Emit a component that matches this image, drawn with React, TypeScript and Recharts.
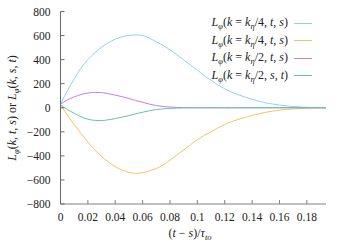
import React from "react";
import { LineChart, Line, XAxis, YAxis, Legend } from "recharts";

const xValues = [0, 0.005, 0.01, 0.015, 0.02, 0.025, 0.03, 0.035, 0.04, 0.045, 0.05, 0.055, 0.06, 0.065, 0.07, 0.075, 0.08, 0.085, 0.09, 0.095, 0.1, 0.105, 0.11, 0.115, 0.12, 0.125, 0.13, 0.135, 0.14, 0.145, 0.15, 0.155, 0.16, 0.165, 0.17, 0.175, 0.18, 0.185, 0.19, 0.194];
const blueValues = [35, 140, 240, 330, 400, 455, 505, 540, 570, 590, 602, 605, 600, 578, 548, 518, 482, 440, 398, 355, 312, 268, 228, 190, 158, 130, 108, 88, 70, 54, 41, 31, 22, 15, 10, 7, 4, 2, 1, 0];
const orangeValues = [25, -60, -140, -215, -285, -350, -405, -450, -490, -518, -537, -545, -540, -524, -505, -475, -436, -393, -350, -307, -265, -230, -200, -168, -140, -115, -97, -80, -64, -50, -38, -28, -20, -14, -10, -7, -4, -2, -1, 0];
const purpleValues = [30, 65, 90, 110, 122, 128, 126, 117, 105, 92, 77, 60, 45, 30, 18, 11, 6, 3, 1, 0, 0, 0, 0, 0, 0, 0, 0, 0, 0, 0, 0, 0, 0, 0, 0, 0, 0, 0, 0, 0];
const greenValues = [25, -15, -45, -75, -95, -105, -106, -100, -90, -78, -65, -50, -37, -25, -15, -9, -5, -3, -1, 0, 0, 0, 0, 0, 0, 0, 0, 0, 0, 0, 0, 0, 0, 0, 0, 0, 0, 0, 0, 0];
const xTicks = [0, 0.02, 0.04, 0.06, 0.08, 0.1, 0.12, 0.14, 0.16, 0.18];
const yTicks = [-800, -600, -400, -200, 0, 200, 400, 600, 800];
const legendItems = [
  { key: "blue", frac: "4", args: ["t", "s"], color: "#8fd0f2" },
  { key: "orange", frac: "4", args: ["t", "s"], color: "#f2c465" },
  { key: "purple", frac: "2", args: ["t", "s"], color: "#c67cee" },
  { key: "green", frac: "2", args: ["s", "t"], color: "#62c6a4" },
];

const data = xValues.map((x, i) => ({
  x,
  blue: blueValues[i],
  orange: orangeValues[i],
  purple: purpleValues[i],
  green: greenValues[i],
}));

const FONT = "'Liberation Serif', 'DejaVu Serif', serif";
const AXIS = "#808080";
const TXT = "#222";

const fmtX = (v: number) => (v === 0 ? "0" : Number(v.toFixed(2)).toString());
const fmtY = (v: number) => (v < 0 ? "\u2212" + Math.abs(v) : String(v));

const XTick = (props: any) => {
  const { x, payload } = props;
  return (
    <text x={x} y={221} textAnchor="middle" style={{ fontFamily: FONT }} fontSize={11.5} fill={TXT}>
      {fmtX(payload.value)}
    </text>
  );
};

const YTick = (props: any) => {
  const { y, payload } = props;
  return (
    <text x={50.5} y={y + 4} textAnchor="end" style={{ fontFamily: FONT }} fontSize={11.5} fill={TXT}>
      {fmtY(payload.value)}
    </text>
  );
};

const LegendContent = () => (
  <div style={{ fontFamily: FONT, fontSize: 12, color: TXT }}>
    {legendItems.map((it) => (
      <div key={it.key} style={{ display: "flex", alignItems: "center", justifyContent: "flex-end", height: 17.5, whiteSpace: "nowrap" }}>
        <span>
          <i>L</i>
          <sub style={{ fontSize: 8.5, fontStyle: "italic" }}>φ</sub>(<i>k</i> = <i>k</i>
          <sub style={{ fontSize: 8.5, fontStyle: "italic" }}>η</sub>/{it.frac}, <i>{it.args[0]}</i>, <i>{it.args[1]}</i>)
        </span>
        <span style={{ display: "inline-block", width: 18, height: 0, borderTop: `1px solid ${it.color}`, marginLeft: 6 }} />
      </div>
    ))}
  </div>
);

export default function App() {
  return (
    <div style={{ position: "absolute", left: 0, top: 0, width: 350, height: 245, background: "#fff", fontFamily: FONT }}>
      <LineChart width={350} height={245} data={data} margin={{ top: 11.5, right: 24, bottom: 0, left: 0 }}>
        <XAxis
          type="number"
          dataKey="x"
          domain={[0, 0.194]}
          ticks={xTicks}
          interval={0}
          allowDataOverflow
          height={41}
          tickSize={-4}
          stroke={AXIS}
          tick={<XTick />}
          label={{
            content: () => (
              <text x={190} y={237} textAnchor="middle" style={{ fontFamily: FONT }} fontSize={12} fill={TXT}>
                (<tspan fontStyle="italic">t</tspan> − <tspan fontStyle="italic">s</tspan>)/<tspan fontStyle="italic">τ</tspan>
                <tspan fontStyle="italic" fontSize={8.5} dy={2.5}>to</tspan>
              </text>
            ),
          }}
        />
        <XAxis xAxisId="top" orientation="top" type="number" dataKey="x" domain={[0, 0.194]} ticks={xTicks} interval={0} allowDataOverflow height={0} tickSize={-4} tick={false} stroke={AXIS} />
        <YAxis
          type="number"
          domain={[-800, 800]}
          ticks={yTicks}
          interval={0}
          allowDataOverflow
          width={60.5}
          tickSize={-4}
          stroke="#6a6a6a"
          tick={<YTick />}
          label={{
            content: () => (
              <text x={16} y={108} transform="rotate(-90 16 108)" textAnchor="middle" style={{ fontFamily: FONT }} fontSize={12} fill={TXT}>
                <tspan fontStyle="italic">L</tspan>
                <tspan fontStyle="italic" fontSize={8.5} dy={2.5}>φ</tspan>
                <tspan dy={-2.5}>(</tspan><tspan fontStyle="italic">k</tspan>, <tspan fontStyle="italic">t</tspan>, <tspan fontStyle="italic">s</tspan>) or <tspan fontStyle="italic">L</tspan>
                <tspan fontStyle="italic" fontSize={8.5} dy={2.5}>φ</tspan>
                <tspan dy={-2.5}>(</tspan><tspan fontStyle="italic">k</tspan>, <tspan fontStyle="italic">s</tspan>, <tspan fontStyle="italic">t</tspan>)
              </text>
            ),
          }}
        />
        <YAxis yAxisId="right" orientation="right" type="number" domain={[-800, 800]} ticks={yTicks} interval={0} allowDataOverflow width={0} tickSize={-4} tick={false} stroke={AXIS} />
        <Legend
          layout="vertical"
          align="center"
          verticalAlign="middle"
          content={<LegendContent />}
          wrapperStyle={{ position: "absolute", top: 14.5, left: "auto", right: 38, width: "auto", height: "auto" }}
        />
        <Line dataKey="blue" type="monotone" stroke={legendItems[0].color} strokeWidth={1} dot={false} isAnimationActive={false} />
        <Line dataKey="orange" type="monotone" stroke={legendItems[1].color} strokeWidth={1} dot={false} isAnimationActive={false} />
        <Line dataKey="purple" type="monotone" stroke={legendItems[2].color} strokeWidth={1} dot={false} isAnimationActive={false} />
        <Line dataKey="green" type="monotone" stroke={legendItems[3].color} strokeWidth={1} dot={false} isAnimationActive={false} />
      </LineChart>
    </div>
  );
}
